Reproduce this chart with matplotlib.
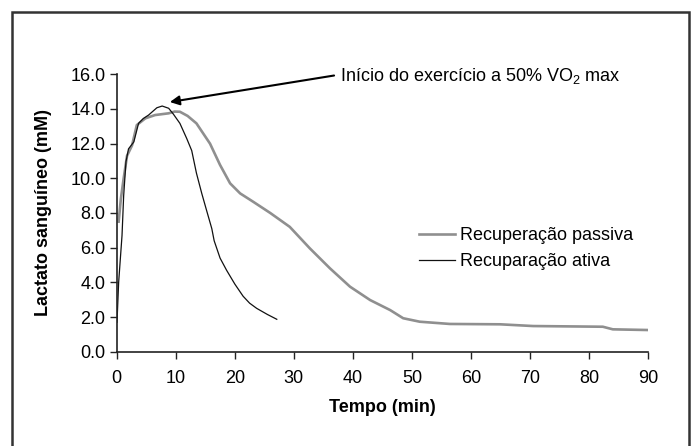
import matplotlib
matplotlib.use("Agg")
import matplotlib.pyplot as plt
from matplotlib.patches import Rectangle

plt.rcParams["font.family"] = ["Liberation Sans", "DejaVu Sans"]
plt.rcParams["mathtext.fontset"] = "custom"
plt.rcParams["mathtext.rm"] = "Liberation Sans"

# Recuperação ativa (black, thin)
t_ativa = [0.05, 0.33, 0.9, 1.18, 1.57, 2.0, 2.9, 3.7, 4.5, 5.4, 6.8, 7.7, 8.8,
           9.6, 10.7, 11.85, 12.7, 13.5, 14.4, 15.2, 16.1, 16.5, 17.5, 18.6,
           20.0, 21.4, 22.5, 23.7, 25.5, 27.1]
L_ativa = [1.7, 4.0, 6.7, 9.0, 10.96, 11.7, 12.1, 13.17, 13.45, 13.65, 14.07,
           14.17, 14.04, 13.7, 13.17, 12.3, 11.6, 10.3, 9.13, 8.17, 7.1, 6.4,
           5.4, 4.7, 3.9, 3.2, 2.8, 2.5, 2.15, 1.87]

# Recuperação passiva (gray, thick)
t_passiva = [0.33, 0.7, 1.18, 1.75, 2.6, 3.4, 4.85, 6.5, 8.8, 9.8, 10.7, 12.0,
             13.5, 15.8, 17.5, 19.2, 20.9, 23.1, 26.0, 29.3, 32.7, 36.1, 39.5,
             42.9, 46.3, 48.5, 51.3, 56.4, 64.9, 70.5, 82.3, 84.0, 90.0]
L_passiva = [7.5, 8.8, 10.0, 11.3, 11.9, 13.07, 13.46, 13.65, 13.75, 13.85,
             13.84, 13.6, 13.17, 12.0, 10.77, 9.71, 9.13, 8.65, 8.0, 7.2, 5.96,
             4.81, 3.75, 2.98, 2.4, 1.93, 1.73, 1.6, 1.58, 1.48, 1.44, 1.29, 1.25]

x_ticks = [0, 10, 20, 30, 40, 50, 60, 70, 80, 90]
y_ticks = [0, 2, 4, 6, 8, 10, 12, 14, 16]

fig = plt.figure(figsize=(6.91, 4.46), dpi=100)
ax = fig.add_axes([116.7 / 691, 1 - 351.7 / 446, 531.6 / 691, 277.4 / 446])

ax.plot(t_passiva, L_passiva, color="#8f8f8f", linewidth=1.9,
        label="Recuperação passiva", solid_joinstyle="round")
ax.plot(t_ativa, L_ativa, color="#111111", linewidth=0.9,
        label="Recuparação ativa", solid_joinstyle="round")

ax.set_xlim(0, 90)
ax.set_ylim(0, 16)
ax.set_xticks(x_ticks)
ax.set_yticks(y_ticks)
ax.set_yticklabels([f"{v:.1f}" for v in y_ticks])
ax.tick_params(direction="out", length=5, width=1, labelsize=13, color="#222222")
ax.tick_params(axis="y", pad=3)
ax.tick_params(axis="x", pad=8)
for s in ["top", "right"]:
    ax.spines[s].set_visible(False)
for s in ["left", "bottom"]:
    ax.spines[s].set_color("#222222")
    ax.spines[s].set_linewidth(1.2)

ax.set_xlabel("Tempo (min)", fontsize=13, fontweight="bold")
ax.set_ylabel("Lactato sanguíneo (mM)", fontsize=13, fontweight="bold")
ax.xaxis.set_label_coords(0.5, -0.172)
ax.yaxis.set_label_coords(-0.122, 0.5)

# annotation: text and arrow drawn separately so the arrow meets the text mid-height
ax.text(37.8, 15.93, "Início do exercício a 50% VO$_\\mathrm{2}$ max",
        fontsize=13, ha="left", va="center")
ax.annotate("", xy=(9.0, 14.4), xytext=(36.8, 15.93),
            arrowprops=dict(arrowstyle="-|>", color="black", lw=1.5,
                            mutation_scale=14, shrinkA=0, shrinkB=0))

ax.legend(loc="upper left", bbox_to_anchor=(0.568, 0.45), frameon=False,
          fontsize=13, handlelength=2.0, handletextpad=0.3,
          labelspacing=0.52, borderpad=0, borderaxespad=0)

fig.patches.append(Rectangle((12 / 691, -0.05), 677 / 691, 1.05 - 12 / 446,
                             transform=fig.transFigure, fill=False,
                             edgecolor="#333333", linewidth=1.8))

fig.savefig("out.png", dpi=100)
